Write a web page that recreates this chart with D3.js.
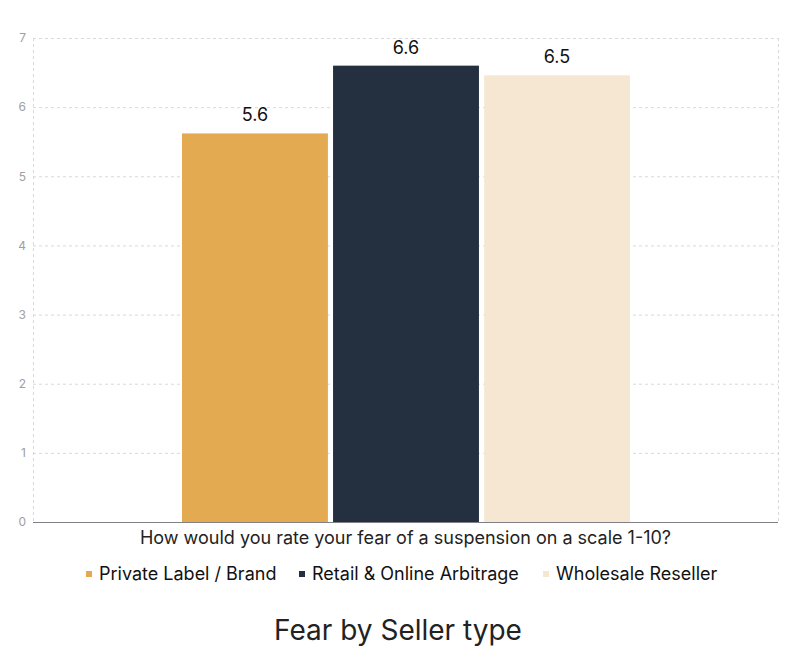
<!DOCTYPE html>
<html><head><meta charset="utf-8">
<script src="https://cdn.jsdelivr.net/npm/d3@7"></script>
<style>body{margin:0;background:#fff;font-family:Inter,"Noto Sans",sans-serif;}</style>
</head><body><svg id="c" width="796" height="664"></svg>
<script>
const categories = ["How would you rate your fear of a suspension on a scale 1-10?"];
const series = ["Private Label / Brand", "Retail & Online Arbitrage", "Wholesale Reseller"];
const values = [5.62, 6.6, 6.46];
const valueLabels = ["5.6", "6.6", "6.5"];
const colors = ["#E3AA52", "#243040", "#F6E7D2"];
const yTicks = [0,1,2,3,4,5,6,7];
const title = "Fear by Seller type";

const svg = d3.select("#c");
const m = {l:33, r:778, t:38, b:522};
const x0 = d3.scaleBand().domain(categories).range([m.l, m.r]).padding(0);
const x1 = d3.scaleBand().domain(series).range([182, 630]).paddingInner(0.034);
const y = d3.scaleLinear().domain([0,7]).range([m.b, m.t]);

// grid
const g = svg.append("g");
g.selectAll("line.h").data(yTicks.filter(d=>d>0)).join("line")
  .attr("x1", m.l).attr("x2", m.r).attr("y1", d=>y(d)+0.5).attr("y2", d=>y(d)+0.5)
  .attr("stroke", "#d9d9d9").attr("stroke-dasharray", "3,3");
[m.l, m.r].forEach(xv => g.append("line").attr("x1", xv+0.5).attr("x2", xv+0.5)
  .attr("y1", m.t).attr("y2", m.b).attr("stroke", "#d9d9d9").attr("stroke-dasharray", "3,3"));

// y ticks
const yAxis = d3.axisLeft(y).tickValues(yTicks).tickFormat(d3.format("d")).tickSize(0).tickPadding(7);
const ya = svg.append("g").attr("transform", `translate(${m.l},0)`).call(yAxis);
ya.select(".domain").remove();
ya.selectAll("text").attr("fill", "#a0a0a0").style("font-size", "12px").style("font-family", "Inter,sans-serif");

// bars
svg.selectAll("rect.bar").data(series).join("rect")
  .attr("x", d=>x1(d)).attr("width", x1.bandwidth())
  .attr("y", (d,i)=>y(values[i])).attr("height", (d,i)=>y(0)-y(values[i]))
  .attr("fill", (d,i)=>colors[i]);

svg.selectAll("text.val").data(series).join("text")
  .attr("x", d=>x1(d)+x1.bandwidth()/2).attr("y", (d,i)=>y(values[i])-12)
  .attr("text-anchor", "middle").attr("fill", "#111").style("font-size", "18px")
  .text((d,i)=>valueLabels[i]);

// baseline
svg.append("line").attr("x1", m.l).attr("x2", m.r).attr("y1", m.b+0.5).attr("y2", m.b+0.5)
  .attr("stroke", "#7f7f86").attr("stroke-width", 1);

// category label
const xAxis = d3.axisBottom(x0).tickSize(0).tickPadding(9);
const xa = svg.append("g").attr("transform", `translate(0,${m.b})`).call(xAxis);
xa.select(".domain").remove();
xa.selectAll("text").attr("fill", "#222").style("font-size", "18px").style("font-family", "Inter,sans-serif");

// legend
const legX = [86, 299, 543];
const leg = svg.selectAll("g.leg").data(series).join("g").attr("transform", (d,i)=>`translate(${legX[i]},574)`);
leg.append("rect").attr("x", 0).attr("y", -3).attr("width", 6).attr("height", 6).attr("fill", (d,i)=>colors[i]);
leg.append("text").attr("x", 13).attr("y", 0).attr("dy", "0.35em").attr("fill", "#111").style("font-size", "18px").text(d=>d);

// title
svg.append("text").attr("x", 398).attr("y", 630).attr("dy", "0.35em").attr("text-anchor", "middle")
  .attr("fill", "#222").style("font-size", "28px").text(title);
</script></body></html>
